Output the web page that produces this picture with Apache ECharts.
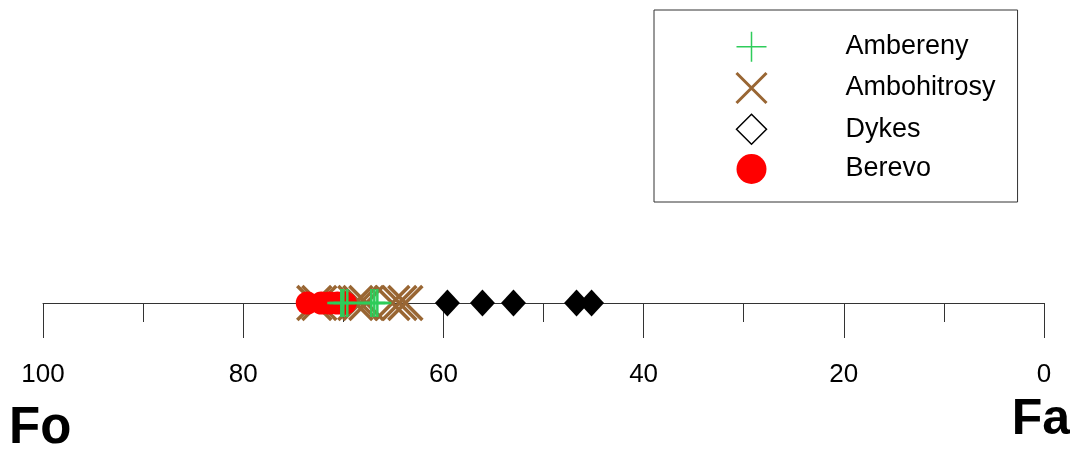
<!DOCTYPE html>
<html>
<head>
<meta charset="utf-8">
<script src="https://cdn.jsdelivr.net/npm/echarts@6/dist/echarts.min.js"></script>
<style>
html,body{margin:0;padding:0;background:#fff;}
#chart{width:1070px;height:449px;}
</style>
</head>
<body>
<div id="chart"></div>
<script>
// Fo content (mol %) of each sample
const seriesNames = ['Ambereny', 'Ambohitrosy', 'Dykes', 'Berevo'];
const ambereny = [70.2, 70.0, 69.6, 67.2, 66.9, 66.6];
const ambohitrosy = [72.9, 72.4, 68.8, 68.3, 67.7, 65.1, 64.4, 63.8];
const dykes = [59.6, 56.1, 53.0, 46.7, 45.2];
const berevo = [73.6, 72.2, 71.4, 70.6, 69.8];
const tickMin = 0, tickMax = 100, tickStep = 20;
const endLabels = ['Fo', 'Fa'];

const green = '#2ecc5a', brown = '#996633', red = '#ff0000', black = '#000000';
const xPath = 'path://M0,0L10,10M10,0L0,10';
const plusPath = 'path://M5,0L5,10M0,5L10,5';
const font = 'Liberation Sans, Arial, sans-serif';

const toPts = arr => arr.map(v => [v, 0]);

const chart = echarts.init(document.getElementById('chart'), null, {renderer: 'canvas'});
chart.setOption({
  animation: false,
  backgroundColor: '#fff',
  grid: {left: 43, right: 26, top: 263, bottom: 146, containLabel: false},
  xAxis: {
    type: 'value', inverse: true, min: tickMin, max: tickMax, interval: tickStep,
    axisLine: {show: true, onZero: false, lineStyle: {color: '#333', width: 1}},
    axisTick: {show: true, length: 35, lineStyle: {color: '#333', width: 1}},
    minorTick: {show: true, splitNumber: 2, length: 19, lineStyle: {color: '#333', width: 1}},
    axisLabel: {margin: 59, fontSize: 26, color: '#000', fontFamily: font},
    splitLine: {show: false}, minorSplitLine: {show: false}
  },
  yAxis: {type: 'value', min: 0, max: 1, show: false},
  legend: {
    orient: 'vertical', left: 654, top: 10,
    padding: [21, 22, 18, 81],
    itemWidth: 30, itemHeight: 30, itemGap: 9,
    borderColor: '#333', borderWidth: 1,
    textStyle: {fontSize: 27, color: '#000', fontFamily: font, padding: [0, 0, 0, 74]},
    selectedMode: false,
    data: [
      {name: seriesNames[0], icon: plusPath, itemStyle: {color: 'rgba(0,0,0,0)', borderColor: green, borderWidth: 1.5, opacity: 1}},
      {name: seriesNames[1], icon: xPath, itemStyle: {color: 'rgba(0,0,0,0)', borderColor: brown, borderWidth: 3, opacity: 1}},
      {name: seriesNames[2], icon: 'diamond', itemStyle: {color: '#fff', borderColor: black, borderWidth: 1.5, opacity: 1}},
      {name: seriesNames[3], icon: 'circle', itemStyle: {color: red, borderWidth: 0, opacity: 1}}
    ]
  },
  graphic: [
    {type: 'text', left: 9, top: 403, style: {text: endLabels[0], font: 'bold 51px ' + font, fill: '#000'}},
    {type: 'text', right: 0, top: 395, style: {text: endLabels[1], font: 'bold 50px ' + font, fill: '#000'}}
  ],
  series: [
    {name: seriesNames[1], type: 'scatter', data: toPts(ambohitrosy), symbol: xPath, symbolSize: 34, clip: false,
     itemStyle: {color: 'rgba(0,0,0,0)', borderColor: brown, borderWidth: 3.5, opacity: 1}},
    {name: seriesNames[3], type: 'scatter', data: toPts(berevo), symbol: 'circle', symbolSize: 23, clip: false,
     itemStyle: {color: red, opacity: 1}},
    {name: seriesNames[0], type: 'scatter', data: toPts(ambereny), symbol: plusPath, symbolSize: 28, clip: false,
     itemStyle: {color: 'rgba(0,0,0,0)', borderColor: green, borderWidth: 2.5, opacity: 1}},
    {name: seriesNames[2], type: 'scatter', data: toPts(dykes), symbol: 'diamond', symbolSize: [25, 27], clip: false,
     itemStyle: {color: black, opacity: 1}}
  ]
});
</script>
</body>
</html>
